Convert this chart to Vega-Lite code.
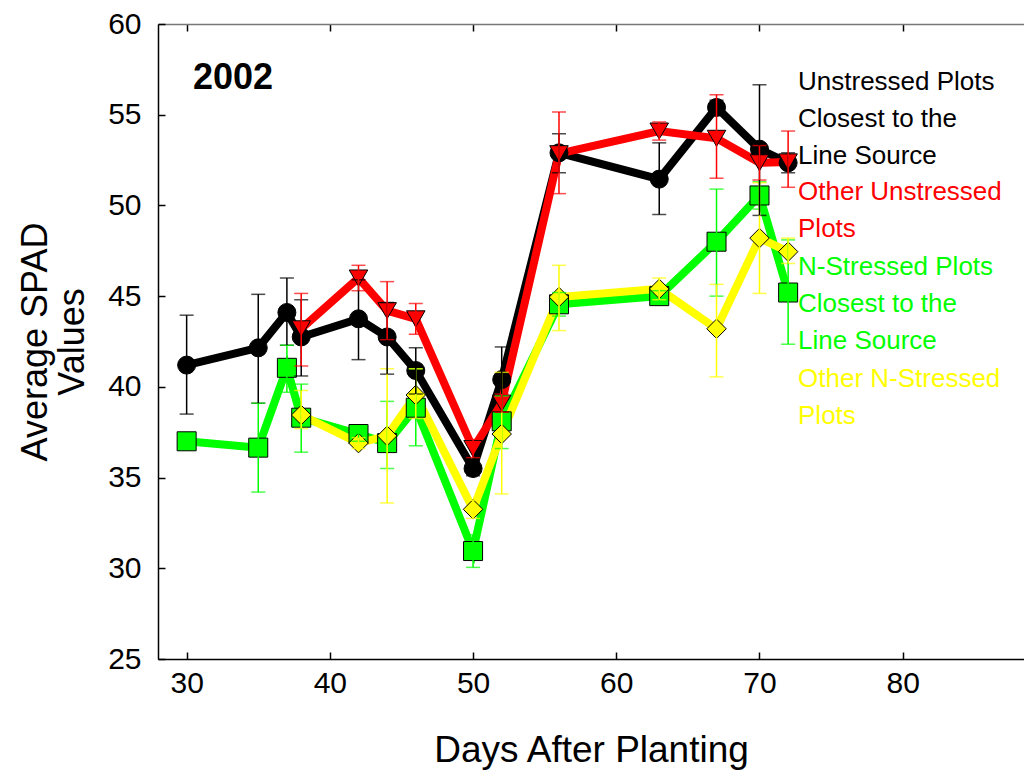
{
  "$schema": "https://vega.github.io/schema/vega-lite/v6.json",
  "width": 866,
  "height": 635,
  "autosize": {"type": "none"},
  "padding": {"left": 158, "top": 24, "right": 0, "bottom": 112},
  "config": {
    "font": "Liberation Sans",
    "view": {"stroke": null},
    "axis": {"grid": false}
  },
  "data": {
    "values": [
      {"day": 30, "series": "NC", "mean": 37.0, "lo": 36.8, "hi": 37.2},
      {"day": 35, "series": "NC", "mean": 36.65, "lo": 34.2, "hi": 39.1},
      {"day": 37, "series": "NC", "mean": 41.05, "lo": 39.7, "hi": 42.3},
      {"day": 38, "series": "NC", "mean": 38.3, "lo": 36.4, "hi": 40.15},
      {"day": 42, "series": "NC", "mean": 37.4, "lo": 37.0, "hi": 37.8},
      {"day": 44, "series": "NC", "mean": 36.9, "lo": 35.5, "hi": 39.2},
      {"day": 46, "series": "NC", "mean": 38.85, "lo": 36.75, "hi": 41.0},
      {"day": 50, "series": "NC", "mean": 30.95, "lo": 30.05, "hi": 31.85},
      {"day": 52, "series": "NC", "mean": 38.1, "lo": 36.6, "hi": 39.5},
      {"day": 56, "series": "NC", "mean": 44.55, "lo": 43.9, "hi": 45.2},
      {"day": 63, "series": "NC", "mean": 45.0, "lo": 44.7, "hi": 45.3},
      {"day": 67, "series": "NC", "mean": 48.0, "lo": 45.0, "hi": 50.9},
      {"day": 70, "series": "NC", "mean": 50.55, "lo": 49.8, "hi": 51.3},
      {"day": 72, "series": "NC", "mean": 45.2, "lo": 42.35, "hi": 48.1},
      {"day": 38, "series": "ON", "mean": 38.45, "lo": 37.7, "hi": 39.8},
      {"day": 42, "series": "ON", "mean": 36.9, "lo": 36.6, "hi": 37.2},
      {"day": 44, "series": "ON", "mean": 37.3, "lo": 33.6, "hi": 41.0},
      {"day": 46, "series": "ON", "mean": 39.55, "lo": 38.25, "hi": 41.0},
      {"day": 50, "series": "ON", "mean": 33.25, "lo": 32.75, "hi": 33.75},
      {"day": 52, "series": "ON", "mean": 37.4, "lo": 34.1, "hi": 40.8},
      {"day": 56, "series": "ON", "mean": 44.95, "lo": 43.1, "hi": 46.7},
      {"day": 63, "series": "ON", "mean": 45.4, "lo": 44.8, "hi": 46.0},
      {"day": 67, "series": "ON", "mean": 43.2, "lo": 40.55, "hi": 45.65},
      {"day": 70, "series": "ON", "mean": 48.2, "lo": 45.15, "hi": 51.25},
      {"day": 72, "series": "ON", "mean": 47.45, "lo": 46.8, "hi": 48.2},
      {"day": 30, "series": "UC", "mean": 41.2, "lo": 38.5, "hi": 43.95},
      {"day": 35, "series": "UC", "mean": 42.15, "lo": 39.1, "hi": 45.1},
      {"day": 37, "series": "UC", "mean": 44.1, "lo": 42.3, "hi": 46.0},
      {"day": 38, "series": "UC", "mean": 42.75, "lo": 40.6, "hi": 44.8},
      {"day": 42, "series": "UC", "mean": 43.75, "lo": 41.5, "hi": 45.9},
      {"day": 44, "series": "UC", "mean": 42.75, "lo": 40.7, "hi": 44.65},
      {"day": 46, "series": "UC", "mean": 40.9, "lo": 39.6, "hi": 42.15},
      {"day": 50, "series": "UC", "mean": 35.5, "lo": 35.1, "hi": 35.9},
      {"day": 52, "series": "UC", "mean": 40.4, "lo": 38.6, "hi": 42.2},
      {"day": 56, "series": "UC", "mean": 52.9, "lo": 51.8, "hi": 53.95},
      {"day": 63, "series": "UC", "mean": 51.45, "lo": 49.5, "hi": 53.45},
      {"day": 67, "series": "UC", "mean": 55.4, "lo": 55.0, "hi": 55.8},
      {"day": 70, "series": "UC", "mean": 53.1, "lo": 49.45, "hi": 56.65},
      {"day": 72, "series": "UC", "mean": 52.35, "lo": 51.8, "hi": 52.9},
      {"day": 38, "series": "OU", "mean": 43.2, "lo": 41.15, "hi": 45.15},
      {"day": 42, "series": "OU", "mean": 46.0, "lo": 45.3, "hi": 46.7},
      {"day": 44, "series": "OU", "mean": 44.2, "lo": 42.6, "hi": 45.8},
      {"day": 46, "series": "OU", "mean": 43.75, "lo": 42.9, "hi": 44.6},
      {"day": 50, "series": "OU", "mean": 36.6, "lo": 36.1, "hi": 37.1},
      {"day": 52, "series": "OU", "mean": 39.1, "lo": 38.6, "hi": 39.6},
      {"day": 56, "series": "OU", "mean": 52.85, "lo": 50.65, "hi": 55.15},
      {"day": 63, "series": "OU", "mean": 54.1, "lo": 53.6, "hi": 54.6},
      {"day": 67, "series": "OU", "mean": 53.7, "lo": 51.5, "hi": 56.1},
      {"day": 70, "series": "OU", "mean": 52.35, "lo": 51.4, "hi": 53.3},
      {"day": 72, "series": "OU", "mean": 52.4, "lo": 51.0, "hi": 54.1}
    ]
  },
  "resolve": {"axis": {"x": "independent", "y": "independent"}},
  "layer": [
    {
      "mark": {"type": "line", "strokeWidth": 8},
      "encoding": {
        "x": {
          "field": "day", "type": "quantitative",
          "scale": {"domain": [28, 88.47], "nice": false, "zero": false},
          "axis": {"orient": "top", "labels": false, "title": null, "values": [30, 40, 50, 60, 70, 80], "tickSize": -7, "tickWidth": 1.5, "tickColor": "#000", "domainColor": "#777", "domainWidth": 1.5}
        },
        "y": {
          "field": "mean", "type": "quantitative",
          "scale": {"domain": [25, 60], "nice": false, "zero": false},
          "axis": {"orient": "left", "values": [25, 30, 35, 40, 45, 50, 55, 60], "tickSize": -7, "tickWidth": 1.5, "tickColor": "#000", "domainColor": "#000", "domainWidth": 1.5, "labelFontSize": 30, "labelColor": "#000", "labelPadding": 24, "title": ["Average SPAD", "Values"], "titleFontSize": 36, "titleFontWeight": "normal", "titleColor": "#000", "titlePadding": 16, "titleLineHeight": 37}
        },
        "color": {"field": "series", "type": "nominal", "scale": {"domain": ["UC", "OU", "NC", "ON"], "range": ["#000000", "#ff0000", "#00ff00", "#ffff00"]}, "legend": null},
        "order": {"field": "day", "type": "quantitative"}
      }
    },
    {
      "mark": {"type": "point", "filled": true, "stroke": "#000", "strokeWidth": 1, "opacity": 1},
      "encoding": {
        "x": {
          "field": "day", "type": "quantitative",
          "axis": {"orient": "bottom", "values": [30, 40, 50, 60, 70, 80], "tickSize": -7, "tickWidth": 1.5, "tickColor": "#000", "domainColor": "#000", "domainWidth": 1.5, "labelFontSize": 30, "labelColor": "#000", "labelPadding": 16, "title": "Days After Planting", "titleFontSize": 37, "titleFontWeight": "normal", "titleColor": "#000", "titlePadding": 34}
        },
        "y": {"field": "mean", "type": "quantitative", "axis": null},
        "color": {"field": "series", "type": "nominal", "legend": null},
        "shape": {"field": "series", "type": "nominal", "scale": {"domain": ["UC", "OU", "NC", "ON"], "range": ["circle", "triangle-down", "square", "diamond"]}, "legend": null},
        "size": {"field": "series", "type": "nominal", "scale": {"domain": ["UC", "OU", "NC", "ON"], "range": [324, 380, 256, 420]}, "legend": null}
      }
    },
    {
      "mark": {"type": "errorbar", "ticks": {"size": 14}, "thickness": 1.5},
      "encoding": {
        "x": {"field": "day", "type": "quantitative", "axis": null},
        "y": {"field": "lo", "type": "quantitative", "axis": null},
        "y2": {"field": "hi"},
        "color": {"field": "series", "type": "nominal", "legend": null}
      }
    },
    {
      "data": {"values": [{}]},
      "mark": {"type": "text", "text": "2002", "fontSize": 36, "fontWeight": "bold", "align": "left", "baseline": "middle", "color": "#000"},
      "encoding": {
        "x": {"datum": 30.44, "type": "quantitative", "axis": null},
        "y": {"datum": 57.02, "type": "quantitative", "axis": null}
      }
    },
    {
      "data": {"values": [{}]},
      "mark": {"type": "text", "text": ["Unstressed Plots", "Closest to the", "Line Source"], "fontSize": 26, "lineHeight": 37, "align": "left", "baseline": "middle", "color": "#000000"},
      "encoding": {
        "x": {"datum": 72.69, "type": "quantitative", "axis": null},
        "y": {"datum": 56.80, "type": "quantitative", "axis": null}
      }
    },
    {
      "data": {"values": [{}]},
      "mark": {"type": "text", "text": ["Other Unstressed", "Plots"], "fontSize": 26, "lineHeight": 37, "align": "left", "baseline": "middle", "color": "#ff0000"},
      "encoding": {
        "x": {"datum": 72.69, "type": "quantitative", "axis": null},
        "y": {"datum": 50.74, "type": "quantitative", "axis": null}
      }
    },
    {
      "data": {"values": [{}]},
      "mark": {"type": "text", "text": ["N-Stressed Plots", "Closest to the", "Line Source"], "fontSize": 26, "lineHeight": 37, "align": "left", "baseline": "middle", "color": "#00ff00"},
      "encoding": {
        "x": {"datum": 72.69, "type": "quantitative", "axis": null},
        "y": {"datum": 46.60, "type": "quantitative", "axis": null}
      }
    },
    {
      "data": {"values": [{}]},
      "mark": {"type": "text", "text": ["Other N-Stressed", "Plots"], "fontSize": 26, "lineHeight": 37, "align": "left", "baseline": "middle", "color": "#ffff00"},
      "encoding": {
        "x": {"datum": 72.69, "type": "quantitative", "axis": null},
        "y": {"datum": 40.43, "type": "quantitative", "axis": null}
      }
    }
  ]
}
